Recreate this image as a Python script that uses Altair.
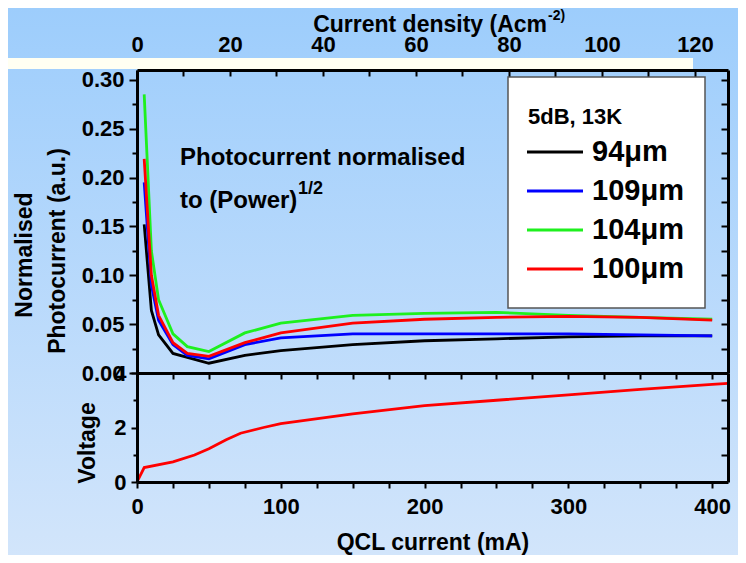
import altair as alt
import pandas as pd

FONT = "Liberation Sans"

# ---------------- data ----------------
current_mA = [5, 10, 15, 25, 35, 50, 75, 100, 150, 200, 250, 300, 350, 400]
pc_94 = [0.152, 0.064, 0.039, 0.020, 0.016, 0.010, 0.018, 0.023, 0.029, 0.033, 0.035, 0.037, 0.038, 0.038]
pc_109 = [0.195, 0.090, 0.054, 0.029, 0.018, 0.0145, 0.029, 0.036, 0.040, 0.040, 0.040, 0.040, 0.039, 0.038]
pc_104 = [0.285, 0.125, 0.075, 0.040, 0.027, 0.022, 0.041, 0.051, 0.059, 0.061, 0.062, 0.059, 0.057, 0.055]
pc_100 = [0.219, 0.100, 0.059, 0.031, 0.020, 0.017, 0.031, 0.041, 0.051, 0.055, 0.057, 0.058, 0.057, 0.054]
series_names = ["94μm", "109μm", "104μm", "100μm"]
series_colors = ["#000000", "#0000ff", "#1ef01e", "#ff0000"]
draw_order = ["94μm", "104μm", "109μm", "100μm"]
legend_title = "5dB, 13K"

volt_current = [0, 5, 25, 40, 50, 62, 72, 88, 100, 150, 200, 250, 300, 350, 400, 411]
voltage = [0, 0.53, 0.74, 0.99, 1.22, 1.55, 1.79, 2.0, 2.14, 2.5, 2.8, 3.0, 3.2, 3.4, 3.58, 3.62]

pc_major = [0.0, 0.05, 0.10, 0.15, 0.20, 0.25, 0.30]
pc_minor = [0.025, 0.075, 0.125, 0.175, 0.225, 0.275]
pc_all = sorted(pc_major + pc_minor)
v_major = [0, 2, 4]
v_minor = [1, 3]
mA_ticks = list(range(0, 401, 25))
dens_labels = [0, 20, 40, 60, 80, 100, 120]
dens_ticks = list(range(0, 121, 10))

# ---------------- layout ----------------
W, H, HT = 591, 412, 303
LEFT, TOP, RIGHT, BOTTOM = -129, -62, 601, 485

rows = []
vals = dict(zip(series_names, [pc_94, pc_109, pc_104, pc_100]))
for name in draw_order:
    for c, v in zip(current_mA, vals[name]):
        rows.append({"current": c, "value": v, "series": name})
photo = pd.DataFrame(rows)
volt = pd.DataFrame({"current": volt_current, "voltage": voltage})
leg = pd.DataFrame({"series": series_names, "row": list(range(len(series_names)))})
one = pd.DataFrame({"a": [0]})

x_mA = alt.Scale(domain=[0, 411], nice=False, zero=False)
x_dens = alt.Scale(domain=[0, 127.1], nice=False, zero=False)
y_pc = alt.Scale(domain=[0, 0.31], range=[HT, 0], nice=False, zero=False)
y_v = alt.Scale(domain=[0, 4], range=[H, HT], nice=False, zero=False)
y_leg = alt.Scale(domain=[0, 3], range=[82, 199], nice=False, zero=False)
color_scale = alt.Scale(domain=series_names, range=series_colors)


def ax(**kw):
    base = dict(zindex=1, grid=False, tickColor="black", tickWidth=2,
                domainColor="black", domainWidth=3, labelFont=FONT,
                labelFontWeight="bold", labelFontSize=22, labelColor="black",
                labelFlush=False, title=None)
    base.update(kw)
    return alt.Axis(**base)


def axis_layer(channel, values, scale, axis):
    df = pd.DataFrame({"v": values})
    if channel == "x":
        enc = {"x": alt.X("v:Q", scale=scale, axis=axis)}
    else:
        enc = {"y": alt.Y("v:Q", scale=scale, axis=axis)}
    return alt.Chart(df).mark_point(opacity=0).encode(**enc)


grad = alt.LinearGradient(
    gradient="linear",
    stops=[alt.GradientStop(color="#9dcdfc", offset=0),
           alt.GradientStop(color="#d2e5fb", offset=1)],
    x1=0, x2=0, y1=0, y2=1)

bg = alt.Chart(one).mark_rect(fill=grad, strokeWidth=0).encode(
    x=alt.value(LEFT), x2=alt.value(RIGHT), y=alt.value(TOP), y2=alt.value(BOTTOM))

band = alt.Chart(one).mark_rect(fill="#fffff2", strokeWidth=0).encode(
    x=alt.value(LEFT), x2=alt.value(556), y=alt.value(-12), y2=alt.value(-1))

legend_box = alt.Chart(one).mark_rect(fill="white", stroke="#555555", strokeWidth=1.5).encode(
    x=alt.value(371), x2=alt.value(568), y=alt.value(7), y2=alt.value(238))

legend_lines = alt.Chart(leg).mark_rule(strokeWidth=3).encode(
    x=alt.value(390), x2=alt.value(446),
    y=alt.Y("row:Q", scale=y_leg, axis=None),
    color=alt.Color("series:N", scale=color_scale, legend=None),
)
legend_labels = alt.Chart(leg).mark_text(
    font=FONT, fontSize=29, fontWeight="bold", color="black",
    align="left", baseline="middle").encode(
    x=alt.value(455),
    y=alt.Y("row:Q", scale=y_leg, axis=None),
    text="series:N",
)

lines = alt.Chart(photo).mark_line(strokeWidth=2.8).encode(
    x=alt.X("current:Q", scale=x_mA,
            axis=ax(orient="bottom", offset=-(H - HT), values=mA_ticks,
                    tickSize=6, labels=False, domain=True)),
    y=alt.Y("value:Q", scale=y_pc,
            axis=ax(orient="left", values=pc_major, tickSize=8, labelPadding=5,
                    format=".2f", domain=True)),
    color=alt.Color("series:N", scale=color_scale, legend=None),
)

vline = alt.Chart(volt).mark_line(strokeWidth=2.8, color="#ff0000").encode(
    x=alt.X("current:Q", scale=x_mA,
            axis=ax(orient="bottom", values=mA_ticks, tickSize=6, labelPadding=8,
                    labelExpr="datum.value % 100 === 0 ? datum.label : ''",
                    domain=True)),
    y=alt.Y("voltage:Q", scale=y_v,
            axis=ax(orient="left", values=v_major, tickSize=6, labelPadding=5,
                    domain=True)),
)

axes = [
    axis_layer("y", pc_minor, y_pc, ax(orient="left", values=pc_minor, tickSize=5,
                                          labels=False, domain=False)),
    axis_layer("y", pc_all, y_pc, ax(orient="left", offset=-W, values=pc_all,
                                        tickSize=7, labels=False, domain=True)),
    axis_layer("y", v_minor, y_v, ax(orient="left", values=v_minor, tickSize=4,
                                        labels=False, domain=False)),
    axis_layer("y", [1, 2, 3], y_v, ax(orient="left", offset=-W, values=[1, 2, 3],
                                          tickSize=7, labels=False, domain=True)),
    axis_layer("x", dens_labels, x_dens, ax(orient="top", values=dens_labels,
                                               ticks=False, tickSize=0,
                                               labelPadding=14, domain=False)),
    axis_layer("x", dens_ticks, x_dens, ax(orient="bottom", offset=-H,
                                              values=dens_ticks, tickSize=6,
                                              labels=False, domain=True)),
]


def txt(s, x, y, size, align="center", angle=0):
    kw = dict(font=FONT, fontSize=size, fontWeight="bold", color="black",
              align=align, baseline="middle")
    if angle:
        kw["angle"] = angle
    return alt.Chart(one).mark_text(**kw).encode(
        x=alt.value(x), y=alt.value(y), text=alt.value(s))


texts = [
    txt("Photocurrent normalised", 43, 88, 24, align="left"),
    txt("to (Power)", 43, 131, 24, align="left"),
    txt("1/2", 161, 119, 18, align="left"),
    txt("Current density (Acm", 410, -45, 23, align="right"),
    txt("-2)", 411, -54, 14, align="left"),
    txt("Normalised", -112, 185, 23, angle=270),
    txt("Photocurrent (a.u.)", -79, 181, 23, angle=270),
    txt("Voltage", -49, 373, 23, angle=270),
    txt("QCL current (mA)", 296, 473, 23),
    txt(legend_title, 391, 47, 22, align="left"),
]

chart = alt.layer(bg, band, legend_box, lines, vline, legend_lines, legend_labels,
                  *texts, *axes).resolve_scale(
    x="independent", y="independent"
).properties(
    width=W, height=H, padding=0
).configure_view(stroke=None)

chart.save("out.html", embed_options={"renderer": "svg", "actions": False})
